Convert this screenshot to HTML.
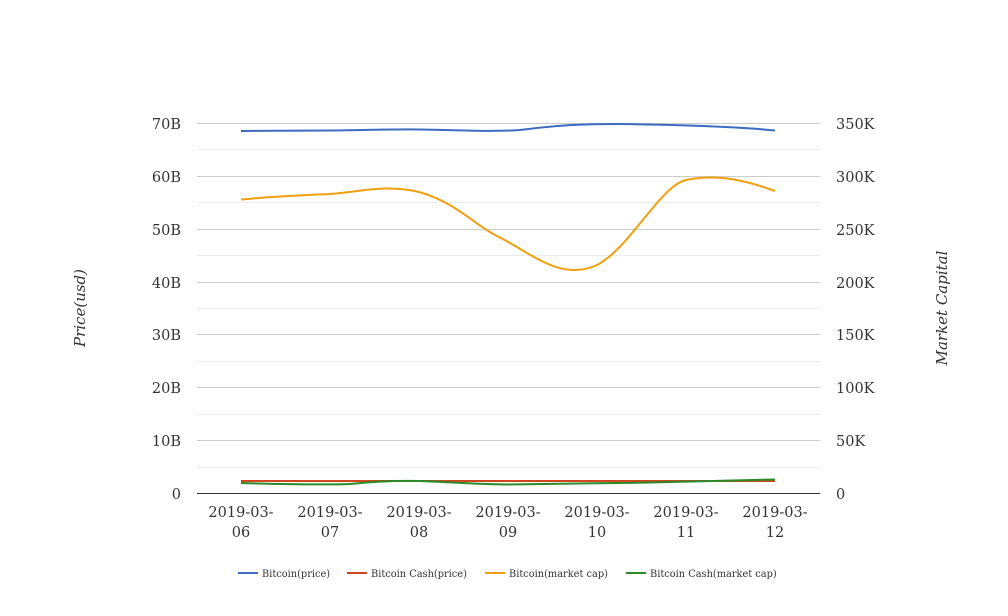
<!DOCTYPE html><html><head><style>body{margin:0;background:#fff}svg{display:block;font-family:"DejaVu Serif","Liberation Serif",serif}</style></head><body>
<svg width="1008" height="616" xmlns="http://www.w3.org/2000/svg">
<g stroke="#ebebeb" stroke-width="1">
<line x1="197" x2="820" y1="149.5" y2="149.5"/><line x1="197" x2="820" y1="202.5" y2="202.5"/><line x1="197" x2="820" y1="255.5" y2="255.5"/><line x1="197" x2="820" y1="308.5" y2="308.5"/><line x1="197" x2="820" y1="361.5" y2="361.5"/><line x1="197" x2="820" y1="414.5" y2="414.5"/><line x1="197" x2="820" y1="467.5" y2="467.5"/></g>
<g stroke="#cccccc" stroke-width="1">
<line x1="197" x2="820" y1="123.5" y2="123.5"/><line x1="197" x2="820" y1="176.5" y2="176.5"/><line x1="197" x2="820" y1="229.5" y2="229.5"/><line x1="197" x2="820" y1="282.5" y2="282.5"/><line x1="197" x2="820" y1="334.5" y2="334.5"/><line x1="197" x2="820" y1="387.5" y2="387.5"/><line x1="197" x2="820" y1="440.5" y2="440.5"/></g>
<line x1="197" x2="820" y1="493.5" y2="493.5" stroke="#333"/>
<g font-size="14.5" fill="#333" text-anchor="end">
<text x="181" y="129">70B</text><text x="181" y="182">60B</text><text x="181" y="235">50B</text><text x="181" y="288">40B</text><text x="181" y="340">30B</text><text x="181" y="393">20B</text><text x="181" y="446">10B</text><text x="181" y="499">0</text></g>
<g font-size="14.5" fill="#333">
<text x="836" y="129">350K</text><text x="836" y="182">300K</text><text x="836" y="235">250K</text><text x="836" y="288">200K</text><text x="836" y="340">150K</text><text x="836" y="393">100K</text><text x="836" y="446">50K</text><text x="836" y="499">0</text></g>
<g font-size="14.5" fill="#333" text-anchor="middle">
<text x="241" y="517">2019-03-</text><text x="241" y="537">06</text>
<text x="330" y="517">2019-03-</text><text x="330" y="537">07</text>
<text x="419" y="517">2019-03-</text><text x="419" y="537">08</text>
<text x="508" y="517">2019-03-</text><text x="508" y="537">09</text>
<text x="597" y="517">2019-03-</text><text x="597" y="537">10</text>
<text x="686" y="517">2019-03-</text><text x="686" y="537">11</text>
<text x="775" y="517">2019-03-</text><text x="775" y="537">12</text></g>
<text font-size="15" font-style="italic" fill="#333" text-anchor="middle" transform="translate(85,308) rotate(-90)">Price(usd)</text>
<text font-size="15" font-style="italic" fill="#333" text-anchor="middle" transform="translate(947,308) rotate(-90)">Market Capital</text>
<g fill="none" stroke-width="2">
<path stroke="#ef9f0f" d="M241,199.5 C280,196 310,195 330,194 C360,192 385,184 419,192 C455,202 475,225 497,236 C530,252 560,282 597,265 C630,248 660,186 686,180 C720,173 750,182 775,191"/>
<path stroke="#3c6bc4" d="M241,131 L330,130.5 C370,130 400,129 419,129.5 C460,130 490,132 520,130 C560,125 580,124 620,124 C660,124.5 730,126 775,130.5"/>
<path stroke="#d2461f" d="M241,481 L775,481"/>
<path stroke="#2a8a2a" d="M241,483 C290,484.5 320,485 350,484 C380,481 400,480.5 419,481 C450,482 470,484 508,484.5 C560,484 600,483 650,482.5 C700,481.5 740,480.5 775,479.5"/>
</g>
<g font-size="9.8" fill="#333">
<line x1="238" x2="258" y1="573" y2="573" stroke="#3c6bc4" stroke-width="2"/><text x="262" y="577">Bitcoin(price)</text>
<line x1="347" x2="367" y1="573" y2="573" stroke="#d2461f" stroke-width="2"/><text x="371" y="577">Bitcoin Cash(price)</text>
<line x1="485" x2="505" y1="573" y2="573" stroke="#ef9f0f" stroke-width="2"/><text x="509" y="577">Bitcoin(market cap)</text>
<line x1="626" x2="646" y1="573" y2="573" stroke="#2a8a2a" stroke-width="2"/><text x="650" y="577">Bitcoin Cash(market cap)</text>
</g>
</svg></body></html>
